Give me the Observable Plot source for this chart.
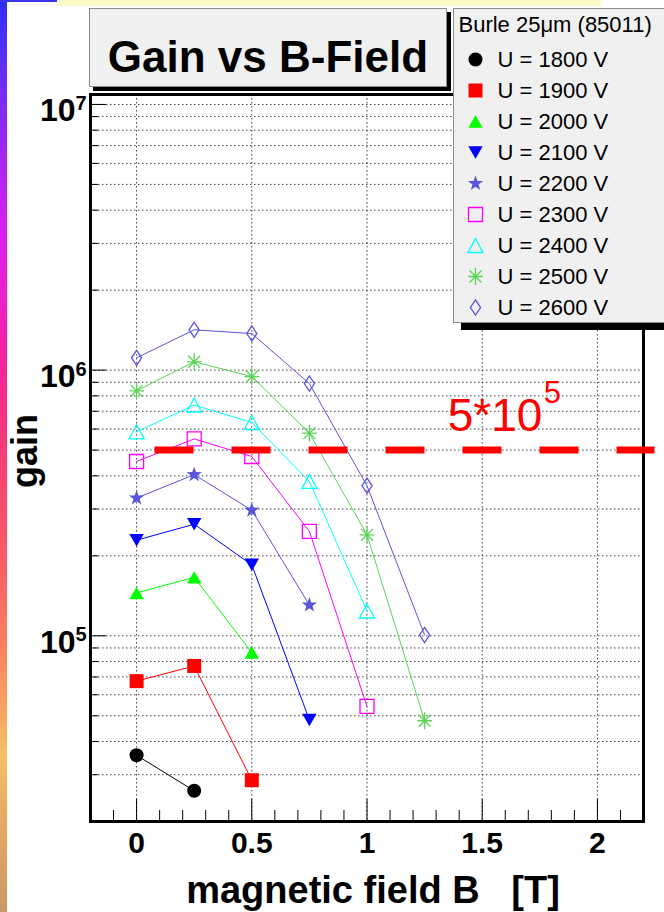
<!DOCTYPE html>
<html>
<head>
<meta charset="utf-8">
<title>Gain vs B-Field</title>
<script src="https://cdn.jsdelivr.net/npm/d3@7"></script>
<script src="https://cdn.jsdelivr.net/npm/@observablehq/plot@0.6"></script>
<style>
  html, body { margin: 0; padding: 0; background: #fff; overflow: hidden; }
  #page { position: relative; width: 664px; height: 912px; overflow: hidden;
          font-family: "Liberation Sans", Arial, Helvetica, sans-serif; background: #fff; }
  #chart, #legend { position: absolute; }
  #chart { left: 0; top: 0; }
  .strip { position: absolute; left: 0; top: 0; width: 7px; height: 912px;
           background: linear-gradient(to bottom, #2e2ef4 0px, #5a30f2 60px, #9a28f0 140px, #d820f0 230px,
             #ee20d0 290px, #f2249c 360px, #f53480 420px, #f84a6c 500px, #f86464 580px, #f88460 650px,
             #f8a460 710px, #f4c064 755px, #eab064 800px, #dca064 860px, #c89a68 912px); }
  .topline { position: absolute; left: 0; top: 0; width: 57px; height: 2px; background: #3a34f0; }
  .topband { position: absolute; left: 57px; top: 0; width: 544px; height: 6px; background: #fdf9c8; }
  .titlebox { position: absolute; left: 89px; top: 8px; width: 356px; height: 77px;
              background: #f0f0f0; border: 1px solid #8c8c8c; box-shadow: 4px 4px 0 #000; }
  .titlebox span { position: absolute; left: 0; right: 0; top: 25.75px; text-align: center;
                   font-weight: bold; font-size: 44px; line-height: 44px; white-space: nowrap; }
  .legendbox { position: absolute; left: 453px; top: 8px; width: 240px; height: 313px;
               background: #f0f0f0; border: 1px solid #8c8c8c; box-shadow: 8px 7px 0 #000; }
  #legend { left: 453px; top: 8px; }
</style>
</head>
<body>
<div id="page">
  <div id="chart"></div>
  <div class="strip"></div>
  <div class="topline"></div>
  <div class="topband"></div>
  <div class="titlebox"><span>Gain vs B-Field</span></div>
  <div class="legendbox"></div>
  <div id="legend"></div>
</div>
<script>
// ---- measurements: gain vs magnetic field for each supply voltage ----
const fieldT = [0, 0.25, 0.5, 0.75, 1.0, 1.25];           // magnetic field B [T]
const voltages = [1800, 1900, 2000, 2100, 2200, 2300, 2400, 2500, 2600];

const gain1800 = [35500, 26100];
const gain1900 = [67500, 77000, 28600];
const gain2000 = [145000, 166000, 86500];
const gain2100 = [229000, 263000, 185000, 48200];
const gain2200 = [330000, 404000, 297000, 130500];
const gain2300 = [453000, 551000, 473000, 247000, 54200];
const gain2400 = [586000, 739000, 635000, 381000, 124000];
const gain2500 = [836000, 1075000, 946000, 579000, 240000, 47900];
const gain2600 = [1112000, 1418000, 1373000, 890000, 367000, 100700];
const gains = [gain1800, gain1900, gain2000, gain2100, gain2200, gain2300, gain2400, gain2500, gain2600];

const colors = ["#000000", "#ff0000", "#00ff00", "#0000ff", "#5954d9", "#ff00ff", "#00ffff", "#59d454", "#5954d9"];
const markers = ["circle", "square", "triangleUp", "triangleDown", "star", "openSquare", "openTriangle", "asterisk", "openDiamond"];

// reference gain level drawn as a dashed line
const threshold = {gain: 5e5, fromB: 0.08, toB: 2.25, labelB: 1.35};

// axis ticks
const xMajor = [0, 0.5, 1, 1.5, 2];
const xTickLabels = ["0", "0.5", "1", "1.5", "2"];
const yDecades = [5, 6, 7];
const legendTitle = "Burle 25\u03bcm (85011)";

// ---- layout ----
const W = 664, H = 912;
const M = {left: 90, right: 21, top: 94, bottom: 91};
const frameW = W - M.left - M.right, frameH = H - M.top - M.bottom;
const xDomain = [-0.2, 2.2];
const yDomain = [2e4, 1.09e7];
const font = "'Liberation Sans', Arial, Helvetica, sans-serif";

// marker shapes (s = dot radius)
const rad = (size) => Math.sqrt(size / Math.PI);
const shapes = {
  circle: "circle",
  square: {draw(c, size) { const s = rad(size); c.rect(-s, -s, 2 * s, 2 * s); }},
  triangleUp: {draw(c, size) { const s = rad(size), w = 1.03 * s, h = 0.9 * s;
    c.moveTo(0, -h); c.lineTo(w, h); c.lineTo(-w, h); c.closePath(); }},
  triangleDown: {draw(c, size) { const s = rad(size), w = 1.03 * s, h = 0.9 * s;
    c.moveTo(0, h); c.lineTo(w, -h); c.lineTo(-w, -h); c.closePath(); }},
  star: {draw(c, size) { const s = rad(size), ro = 1.15 * s, ri = 0.46 * s;
    for (let k = 0; k < 10; ++k) {
      const r = k % 2 ? ri : ro, a = -Math.PI / 2 + k * Math.PI / 5;
      k ? c.lineTo(r * Math.cos(a), r * Math.sin(a)) : c.moveTo(r * Math.cos(a), r * Math.sin(a));
    }
    c.closePath(); }},
  openSquare: {draw(c, size) { const s = rad(size); c.rect(-s, -s, 2 * s, 2 * s); }},
  openTriangle: {draw(c, size) { const s = rad(size), w = 1.07 * s, h = 1.0 * s;
    c.moveTo(0, -h); c.lineTo(w, h); c.lineTo(-w, h); c.closePath(); }},
  asterisk: {draw(c, size) { const s = rad(size), v = 1.2 * s, hz = 1.05 * s, d = 0.85 * s;
    c.moveTo(0, -v); c.lineTo(0, v); c.moveTo(-hz, 0); c.lineTo(hz, 0);
    c.moveTo(-d, -d); c.lineTo(d, d); c.moveTo(-d, d); c.lineTo(d, -d); }},
  openDiamond: {draw(c, size) { const s = rad(size), w = 0.72 * s, h = 1.08 * s;
    c.moveTo(0, -h); c.lineTo(w, 0); c.lineTo(0, h); c.lineTo(-w, 0); c.closePath(); }}
};
const isOpen = (m) => m.startsWith("open") || m === "asterisk";
const markerStyle = (m, color) => isOpen(m)
  ? {symbol: shapes[m], fill: "none", stroke: color, strokeWidth: 1.3}
  : {symbol: shapes[m], fill: color, stroke: "none"};

const series = voltages.map((v, i) => ({
  label: `U = ${v} V`,
  color: colors[i],
  marker: markers[i],
  points: gains[i].map((g, j) => ({B: fieldT[j], gain: g}))
}));

// ticks / grid from the log scale
const yAll = d3.scaleLog().domain(yDomain).ticks();
const yMajor = yDecades.map((e) => 10 ** e);
const yMinor = yAll.filter((t) => !yMajor.includes(t));
const xMinor = d3.range(-1, 22).map((k) => k / 10).filter((t) => Math.abs(t * 2 - Math.round(t * 2)) > 1e-9);

const gridStyle = {stroke: "#000", strokeOpacity: 0.75, strokeWidth: 1, strokeDasharray: "1.5,2.5"};

const expo = Math.floor(Math.log10(threshold.gain));
const mant = threshold.gain / 10 ** expo;

const chart = Plot.plot({
  width: W, height: H,
  marginLeft: M.left, marginRight: M.right, marginTop: M.top, marginBottom: M.bottom,
  style: {fontFamily: font, background: "transparent", overflow: "visible"},
  x: {domain: xDomain, axis: null},
  y: {type: "log", domain: yDomain, axis: null},
  marks: [
    // dotted grid
    Plot.ruleY(yAll, gridStyle),
    Plot.ruleX(xMajor, gridStyle),
    // inner ticks
    Plot.ruleY(yMajor, {stroke: "#000", strokeWidth: 1, insetRight: frameW - 16}),
    Plot.ruleY(yMinor, {stroke: "#000", strokeWidth: 1, insetRight: frameW - 8}),
    Plot.ruleX(xMajor, {stroke: "#000", strokeWidth: 1, insetTop: frameH - 22}),
    Plot.ruleX(xMinor, {stroke: "#000", strokeWidth: 1, insetTop: frameH - 11}),
    // one graph per voltage: connecting line and markers
    ...series.flatMap((s) => [
      Plot.line(s.points, {x: "B", y: "gain", stroke: s.color, strokeWidth: 1}),
      Plot.dot(s.points, {x: "B", y: "gain", r: 7, ...markerStyle(s.marker, s.color)})
    ]),
    Plot.frame({stroke: "#000", strokeWidth: 3}),
    // reference level
    Plot.ruleY([threshold.gain], {x1: threshold.fromB, x2: threshold.toB, stroke: "#ff0000",
      strokeWidth: 7, strokeDasharray: "39,38"}),
    Plot.text([threshold], {x: "labelB", y: "gain", text: () => `${mant}*10`, textAnchor: "start",
      lineAnchor: "bottom", dy: -19, fontSize: 46, fill: "#ff0000"}),
    Plot.text([threshold], {x: "labelB", y: "gain", text: () => String(expo), textAnchor: "start",
      lineAnchor: "bottom", dx: 96, dy: -47, fontSize: 31, fill: "#ff0000"}),
    // y tick labels 10^k
    Plot.text(yDecades, {y: (e) => 10 ** e, frameAnchor: "left", text: () => "10", textAnchor: "end",
      dx: -15, dy: 6.5, fontSize: 32, fontWeight: "bold"}),
    Plot.text(yDecades, {y: (e) => 10 ** e, frameAnchor: "left", text: (e) => String(e), textAnchor: "start",
      dx: -15, dy: -1, fontSize: 20, fontWeight: "bold"}),
    // x tick labels
    Plot.text(xMajor, {x: (d) => d, frameAnchor: "bottom", text: (d, i) => xTickLabels[i],
      dy: 31, fontSize: 30, fontWeight: "bold"}),
    // axis titles
    Plot.text(["magnetic field B\u00a0\u00a0\u00a0[T]"], {frameAnchor: "bottom", dx: 6, dy: 81,
      textAnchor: "middle", lineAnchor: "bottom", fontSize: 38, fontWeight: "bold"}),
    Plot.text(["gain"], {frameAnchor: "left", dx: -54, dy: -7, rotate: -90, textAnchor: "middle",
      lineAnchor: "bottom", fontSize: 36, fontWeight: "bold"})
  ]
});
document.getElementById("chart").appendChild(chart);

// legend: one row per voltage
const legend = Plot.plot({
  width: 211, height: 317, margin: 0,
  style: {fontFamily: font, background: "transparent", overflow: "visible"},
  x: {axis: null, domain: [0, 1]},
  y: {type: "point", domain: series.map((s) => s.label), range: [50, 300], padding: 0, axis: null},
  marks: [
    Plot.text([legendTitle], {frameAnchor: "top-left", dx: 5, dy: 23, lineAnchor: "bottom",
      textAnchor: "start", fontSize: 22}),
    ...series.map((s) => Plot.dot([s], {y: "label", frameAnchor: "left", dx: 22, r: 7,
      ...markerStyle(s.marker, s.color)})),
    Plot.text(series, {y: "label", text: "label", frameAnchor: "left", dx: 44, textAnchor: "start",
      fontSize: 22})
  ]
});
document.getElementById("legend").appendChild(legend);
</script>
</body>
</html>
